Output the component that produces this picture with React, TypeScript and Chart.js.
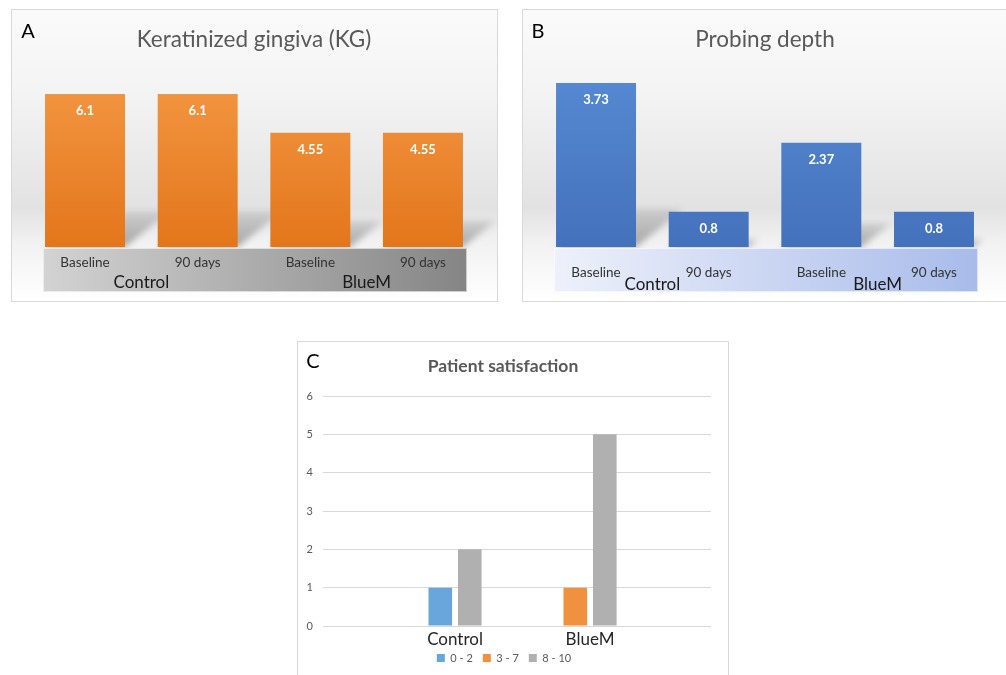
import React, { useEffect, useRef } from 'react';
import { Chart, registerables } from 'chart.js';

Chart.register(...registerables);

const FONT = 'Lato, "Open Sans", "DejaVu Sans", sans-serif';

// ---- Panel A: Keratinized gingiva ----
const KG_TITLE = 'Keratinized gingiva (KG)';
const KG_TIMEPOINTS = ['Baseline', '90 days', 'Baseline', '90 days'];
const KG_GROUPS = ['Control', 'BlueM'];
const KG_VALUES = [6.1, 6.1, 4.55, 4.55];

// ---- Panel B: Probing depth ----
const PD_TITLE = 'Probing depth';
const PD_TIMEPOINTS = ['Baseline', '90 days', 'Baseline', '90 days'];
const PD_GROUPS = ['Control', 'BlueM'];
const PD_VALUES = [3.73, 0.8, 2.37, 0.8];

// ---- Panel C: Patient satisfaction ----
const PS_TITLE = 'Patient satisfaction';
const PS_GROUPS = ['Control', 'BlueM'];
const PS_SERIES = ['0 - 2', '3 - 7', '8 - 10'];
const PS_SCORE_0_2: (number | null)[] = [1, null];
const PS_SCORE_3_7: (number | null)[] = [null, 1];
const PS_SCORE_8_10: (number | null)[] = [2, 5];
const PS_Y_TICKS = [0, 1, 2, 3, 4, 5, 6];

type BarPanelProps = {
  box: { left: number; top: number; width: number; height: number };
  letter: string;
  letterPos: [number, number];
  title: string;
  timepoints: string[];
  groups: string[];
  values: number[];
  yMax: number;
  barTop: string;
  barBottom: string;
  bandFrom: string;
  bandTo: string;
  pad: { left: number; right: number; bottom: number };
  titlePadBottom: number;
  tickY: number;
  groupY: number;
  openRight?: boolean;
};

function BarPanel(p: BarPanelProps) {
  const ref = useRef<HTMLCanvasElement>(null);
  useEffect(() => {
    const canvas = ref.current!;
    const decor = {
      id: 'decor',
      beforeDraw(chart: any) {
        const { ctx, width, height } = chart;
        ctx.save();
        const g = ctx.createLinearGradient(0, 0, 0, height);
        g.addColorStop(0, '#fbfbfb');
        g.addColorStop(0.3, '#f3f3f3');
        g.addColorStop(0.68, '#e2e2e2');
        g.addColorStop(0.8, '#f2f2f2');
        g.addColorStop(1, '#ffffff');
        ctx.fillStyle = g;
        ctx.fillRect(0, 0, width, height);
        ctx.strokeStyle = '#d9d9d9';
        ctx.lineWidth = 1;
        if (p.openRight) {
          ctx.beginPath();
          ctx.moveTo(width, 0.5);
          ctx.lineTo(0.5, 0.5);
          ctx.lineTo(0.5, height - 0.5);
          ctx.lineTo(width, height - 0.5);
          ctx.stroke();
        } else {
          ctx.strokeRect(0.5, 0.5, width - 1, height - 1);
        }
        ctx.fillStyle = '#000';
        ctx.font = `20px ${FONT}`;
        ctx.textAlign = 'center';
        ctx.textBaseline = 'middle';
        ctx.fillText(p.letter, p.letterPos[0], p.letterPos[1]);
        ctx.restore();
      },
      beforeDatasetsDraw(chart: any) {
        const { ctx } = chart;
        const meta = chart.getDatasetMeta(0);
        ctx.save();
        ctx.filter = 'blur(3px)';
        meta.data.forEach((el: any) => {
          const { x, y, base, width } = el.getProps(['x', 'y', 'base', 'width'], true);
          const L = x - width / 2;
          const R = x + width / 2;
          const h = (base - y) * 0.23;
          const d = h * 1.25;
          const g = ctx.createLinearGradient(0, base - h, 0, base);
          g.addColorStop(0, 'rgba(0,0,0,0.10)');
          g.addColorStop(1, 'rgba(0,0,0,0.32)');
          ctx.fillStyle = g;
          ctx.beginPath();
          ctx.moveTo(L, base);
          ctx.lineTo(R, base);
          ctx.lineTo(R + d, base - h);
          ctx.lineTo(L + d, base - h);
          ctx.closePath();
          ctx.fill();
        });
        ctx.restore();
      },
      afterDatasetsDraw(chart: any) {
        const { ctx } = chart;
        const meta = chart.getDatasetMeta(0);
        const els = meta.data;
        const first = els[0];
        const last = els[els.length - 1];
        const bx0 = first.x - first.width / 2 - 2;
        const bx1 = last.x + last.width / 2 + 4;
        const by0 = first.base + 1;
        const by1 = by0 + 44;
        ctx.save();
        const g = ctx.createLinearGradient(bx0, 0, bx1, 0);
        g.addColorStop(0, p.bandFrom);
        g.addColorStop(1, p.bandTo);
        ctx.fillStyle = g;
        ctx.fillRect(bx0, by0, bx1 - bx0, by1 - by0);
        ctx.strokeStyle = 'rgba(255,255,255,0.6)';
        ctx.lineWidth = 1;
        ctx.strokeRect(bx0 + 0.5, by0 + 0.5, bx1 - bx0 - 1, by1 - by0 - 1);

        // value labels
        ctx.fillStyle = '#ffffff';
        ctx.font = `bold 13px ${FONT}`;
        ctx.textAlign = 'center';
        ctx.textBaseline = 'middle';
        els.forEach((el: any, i: number) => {
          ctx.fillText(String(p.values[i]), el.x, el.y + 17);
        });

        // time point labels
        ctx.fillStyle = '#333333';
        ctx.font = `13.5px ${FONT}`;
        els.forEach((el: any, i: number) => {
          ctx.fillText(p.timepoints[i], el.x, p.tickY);
        });

        // group labels
        ctx.fillStyle = '#1a1a1a';
        ctx.font = `17px ${FONT}`;
        p.groups.forEach((name, gi) => {
          const a = els[gi * 2];
          const b = els[gi * 2 + 1];
          ctx.fillText(name, (a.x + b.x) / 2, p.groupY);
        });
        ctx.restore();
      },
    };

    const maxVal = Math.max(...p.values);
    const chart = new Chart(canvas, {
      type: 'bar',
      data: {
        labels: p.timepoints,
        datasets: [
          {
            data: p.values,
            backgroundColor: (c: any) => {
              const ch = c.chart;
              if (!ch.chartArea) return p.barBottom;
              const ys = ch.scales.y;
              const g = ch.ctx.createLinearGradient(0, ys.getPixelForValue(maxVal), 0, ys.getPixelForValue(0));
              g.addColorStop(0, p.barTop);
              g.addColorStop(1, p.barBottom);
              return g;
            },
            borderWidth: 0,
            barPercentage: 0.71,
            categoryPercentage: 1,
          },
        ],
      },
      options: {
        animation: false,
        responsive: false,
        maintainAspectRatio: false,
        layout: { padding: { left: p.pad.left, right: p.pad.right, top: 0, bottom: p.pad.bottom } },
        scales: {
          x: { display: false },
          y: { display: false, min: 0, max: p.yMax },
        },
        plugins: {
          legend: { display: false },
          tooltip: { enabled: false },
          title: {
            display: true,
            text: p.title,
            color: '#595959',
            font: { family: FONT, size: 22.5, weight: 'normal' },
            padding: { top: 17.5, bottom: p.titlePadBottom },
          },
        },
      } as any,
      plugins: [decor],
    });
    return () => chart.destroy();
  }, []);
  return (
    <canvas
      ref={ref}
      width={p.box.width}
      height={p.box.height}
      style={{ position: 'absolute', left: p.box.left, top: p.box.top, width: p.box.width, height: p.box.height }}
    />
  );
}

function SatisfactionPanel() {
  const ref = useRef<HTMLCanvasElement>(null);
  useEffect(() => {
    const canvas = ref.current!;
    const seriesValues = [PS_SCORE_0_2, PS_SCORE_3_7, PS_SCORE_8_10];
    const colors = ['#69a6db', '#f0913f', '#b0b0b0'];
    const decor = {
      id: 'cdecor',
      beforeDraw(chart: any) {
        const { ctx, width, height } = chart;
        ctx.save();
        ctx.fillStyle = '#ffffff';
        ctx.fillRect(0, 0, width, height);
        ctx.strokeStyle = '#d9d9d9';
        ctx.lineWidth = 1;
        ctx.beginPath();
        ctx.moveTo(0.5, height);
        ctx.lineTo(0.5, 0.5);
        ctx.lineTo(width - 0.5, 0.5);
        ctx.lineTo(width - 0.5, height);
        ctx.stroke();
        ctx.fillStyle = '#000';
        ctx.font = `20px ${FONT}`;
        ctx.textAlign = 'center';
        ctx.textBaseline = 'middle';
        ctx.fillText('C', 16, 21);
        ctx.fillStyle = '#595959';
        ctx.font = `bold 17.5px ${FONT}`;
        ctx.fillText(PS_TITLE, 206, 25);
        ctx.restore();
      },
      afterLayout(chart: any) {
        const lg = chart.legend;
        if (lg) {
          lg.top -= 7.5;
          lg.bottom -= 7.5;
        }
      },
    };
    const chart = new Chart(canvas, {
      type: 'bar',
      data: {
        datasets: PS_SERIES.map((name, i) => ({
          label: name,
          data: PS_GROUPS.map((_, j) => ({ x: j, y: seriesValues[i][j] })),
          backgroundColor: colors[i],
          borderWidth: 0,
          skipNull: true,
          barPercentage: 0.8,
          categoryPercentage: 0.437,
        })),
      },
      options: {
        animation: false,
        responsive: false,
        maintainAspectRatio: false,
        layout: { padding: { left: 0, right: 18, top: 55, bottom: 0 } },
        scales: {
          x: {
            type: 'linear',
            min: -0.978,
            max: 1.896,
            offset: false,
            bounds: 'data',
            grid: { display: false, offset: false, drawTicks: false },
            border: { display: false },
            afterBuildTicks: (s: any) => {
              s.ticks = PS_GROUPS.map((_, i) => ({ value: i }));
            },
            afterFit: (s: any) => {
              s.height = 24;
            },
            ticks: {
              callback: (v: any) => PS_GROUPS[v] ?? '',
              font: { family: FONT, size: 17 },
              color: '#262626',
              padding: 3,
              maxRotation: 0,
              autoSkip: false,
            },
          },
          y: {
            min: PS_Y_TICKS[0],
            max: PS_Y_TICKS[PS_Y_TICKS.length - 1],
            ticks: { stepSize: 1, font: { family: FONT, size: 11 }, color: '#595959', padding: 10 },
            grid: { color: '#d9d9d9', drawTicks: false },
            border: { display: false },
            afterFit: (s: any) => {
              s.width = 26;
            },
          },
        },
        plugins: {
          legend: {
            position: 'bottom',
            labels: {
              boxWidth: 8,
              boxHeight: 8,
              padding: 10,
              font: { family: FONT, size: 11 },
              color: '#595959',
            },
          },
          tooltip: { enabled: false },
          title: { display: false },
        },
      } as any,
      plugins: [decor],
    });
    return () => chart.destroy();
  }, []);
  return (
    <canvas
      ref={ref}
      width={432}
      height={340}
      style={{ position: 'absolute', left: 297, top: 341, width: 432, height: 340 }}
    />
  );
}

export default function App() {
  return (
    <div
      style={{
        position: 'absolute',
        left: 0,
        top: 0,
        width: 1006,
        height: 675,
        background: '#ffffff',
        overflow: 'hidden',
      }}
    >
      <BarPanel
        box={{ left: 11, top: 9, width: 487, height: 293 }}
        letter="A"
        letterPos={[17, 23]}
        title={KG_TITLE}
        timepoints={KG_TIMEPOINTS}
        groups={KG_GROUPS}
        values={KG_VALUES}
        yMax={7}
        barTop="#f2933f"
        barBottom="#e3761b"
        bandFrom="#d3d3d3"
        bandTo="#858585"
        pad={{ left: 17.7, right: 18.7, bottom: 55 }}
        titlePadBottom={17.9}
        tickY={254}
        groupY={274}
      />
      <BarPanel
        box={{ left: 522, top: 9, width: 484, height: 293 }}
        letter="B"
        letterPos={[16, 23]}
        title={PD_TITLE}
        timepoints={PD_TIMEPOINTS}
        groups={PD_GROUPS}
        values={PD_VALUES}
        yMax={4.3}
        barTop="#5588d2"
        barBottom="#4471bb"
        bandFrom="#eef1fb"
        bandTo="#a8bbea"
        pad={{ left: 17.7, right: 15.7, bottom: 55 }}
        titlePadBottom={4.5}
        tickY={264}
        groupY={276}
        openRight
      />
      <SatisfactionPanel />
    </div>
  );
}
